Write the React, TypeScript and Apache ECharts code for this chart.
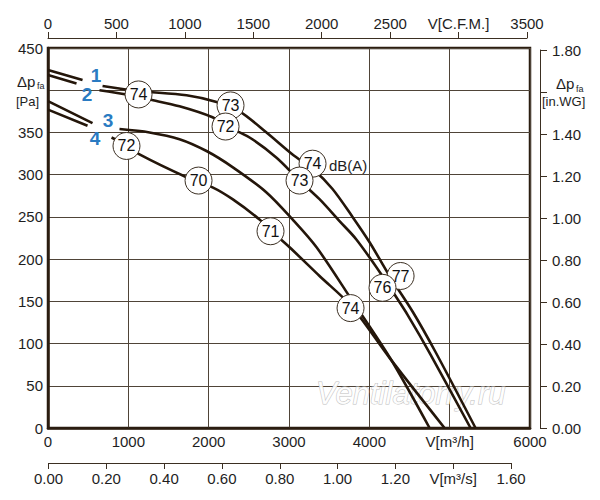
import React, { useEffect, useRef } from "react";
import * as echarts from "echarts";

const FONT = '"Liberation Sans", Arial, Helvetica, sans-serif';
const INK = "#24160a";
const GRID = "#4f4438";
const TXT = "#1e1e1e";

// Axis ranges / tick labels
const flowM3hMax = 6000;
const flowM3hStep = 1000;
const flowM3hNameAt = 5000;
const flowCfmMax = 3500;
const flowCfmStep = 500;
const flowCfmNameAt = 3000;
const flowM3sMax = 1.6;
const flowM3sStep = 0.2;
const flowM3sNameAt = 1.4;
const paMax = 450;
const paStep = 50;
const paNameAt = 400;
const inwgMax = 1.8;
const inwgStep = 0.2;
const inwgNameAt = 1.6;

// Curves: [V m3/h, dp Pa]; "-" marks a gap in the drawn curve
const curve1: (number | string)[][] = [
  [0, 424], [430, 412], [555, "-"], [679, 405], [1127, 399], [1724, 394],
  [2098, 386], [2384, 375], [2720, 350], [3044, 324], [3318, 305],
  [3542, 283], [3791, 250], [4003, 220], [4252, 180], [4538, 138],
  [4824, 90], [5322, 0],
];
const curve2: (number | string)[][] = [
  [0, 418], [355, 408], [498, "-"], [641, 400], [977, 395], [1264, 389],
  [1637, 381], [2048, 368], [2210, 358], [2509, 344], [2845, 320],
  [3131, 293], [3380, 271], [3629, 245], [3841, 223], [4164, 180],
  [4314, 158], [4476, 134], [4762, 87], [5260, 0],
];
const curve3: (number | string)[][] = [
  [0, 387], [554, 361], [722, "-"], [890, 354], [1264, 350], [1637, 342],
  [1973, 328], [2297, 309], [2720, 279], [3044, 247], [3343, 214],
  [3779, 152], [4264, 82], [4750, 0],
];
const curve4: (number | string)[][] = [
  [0, 377], [492, 358], [640, "-"], [791, 344], [990, 334], [1139, 324],
  [1724, 297], [2048, 285], [2297, 271], [2633, 247], [2783, 233],
  [3007, 214], [3380, 180], [3779, 144], [4252, 83], [4936, 0],
];
const curves = [curve1, curve2, curve3, curve4];

// Noise markers: [V m3/h, dp Pa, dB(A)]
const noiseMarks: number[][] = [
  [1127, 395, 74], [2272, 382, 73], [2210, 357, 72], [3293, 313, 74],
  [3131, 293, 73], [4389, 180, 77], [4164, 166, 76], [977, 334, 72],
  [1874, 293, 70], [2770, 233, 71], [3766, 142, 74],
];

const curveNames = ["1", "2", "3", "4"];

export default function App() {
  const ref = useRef<HTMLDivElement>(null);

  useEffect(() => {
    if (!ref.current) return;
    const chart = echarts.init(ref.current, undefined, { renderer: "svg" });

    const thinAxis = { lineStyle: { color: "#3b2f22", width: 1 } };
    const lbl = { fontSize: 15, color: TXT, fontFamily: FONT };

    const namePos = [
      [96, 75], [87, 94], [108, 120], [95, 138],
    ];

    const option: any = {
      animation: false,
      backgroundColor: "#ffffff",
      textStyle: { fontFamily: FONT },
      grid: [
        {
          left: 48, top: 48, width: 482, height: 380, show: true,
          borderColor: "#2b1d10", borderWidth: 2.5, backgroundColor: "transparent",
        },
        { left: 48, top: 37, width: 479, height: 1 },
        { left: 48.5, top: 462, width: 462.5, height: 1 },
        { left: 540, top: 50, width: 1, height: 378 },
      ],
      xAxis: [
        {
          gridIndex: 0, type: "value", min: 0, max: flowM3hMax, interval: flowM3hStep,
          position: "bottom",
          axisLine: { lineStyle: { color: "#2b1d10", width: 2.5 } },
          axisTick: { show: false },
          axisLabel: {
            ...lbl, margin: 6,
            formatter: (v: number) => (v === flowM3hNameAt ? "V[m³/h]" : String(v)),
          },
          splitLine: { show: true, lineStyle: { color: GRID, width: 1 } },
        },
        {
          gridIndex: 1, type: "value", min: 0, max: flowCfmMax, interval: flowCfmStep,
          position: "top",
          axisLine: thinAxis,
          axisTick: { show: true, length: 6, inside: false, lineStyle: { color: "#3b2f22", width: 1 } },
          axisLabel: {
            ...lbl, margin: 6,
            formatter: (v: number) => (v === flowCfmNameAt ? "V[C.F.M.]" : String(v)),
          },
          splitLine: { show: false },
        },
        {
          gridIndex: 2, type: "value", min: 0, max: flowM3sMax, interval: flowM3sStep,
          position: "bottom",
          axisLine: thinAxis,
          axisTick: { show: true, length: 6, inside: false, lineStyle: { color: "#3b2f22", width: 1 } },
          axisLabel: {
            ...lbl, margin: 8,
            formatter: (v: number) =>
              Math.abs(v - flowM3sNameAt) < 1e-6 ? "V[m³/s]" : v.toFixed(2),
          },
          splitLine: { show: false },
        },
        { gridIndex: 3, type: "value", show: false, min: 0, max: 1 },
      ],
      yAxis: [
        {
          gridIndex: 0, type: "value", min: 0, max: paMax, interval: paStep,
          position: "left",
          axisLine: { show: true, lineStyle: { color: "#2b1d10", width: 2.5 } },
          axisTick: { show: false },
          axisLabel: {
            ...lbl, margin: 5,
            formatter: (v: number) => (v === paNameAt ? "" : String(v)),
          },
          splitLine: { show: true, lineStyle: { color: GRID, width: 1 } },
        },
        { gridIndex: 1, type: "value", show: false },
        { gridIndex: 2, type: "value", show: false },
        {
          gridIndex: 3, type: "value", min: 0, max: inwgMax, interval: inwgStep,
          position: "right",
          axisLine: { show: true, ...thinAxis },
          axisTick: { show: true, length: 7, inside: false, lineStyle: { color: "#3b2f22", width: 1 } },
          axisLabel: {
            ...lbl, margin: 11,
            formatter: (v: number) => (Math.abs(v - inwgNameAt) < 1e-6 ? "" : v.toFixed(2)),
          },
          splitLine: { show: false },
        },
      ],
      graphic: [
        {
          type: "text", x: 316, y: 393, z: 1, silent: true,
          style: {
            text: "Ventilatorry.ru", fontSize: 31, fontStyle: "italic", fontFamily: FONT,
            fill: "rgba(255,255,255,0.92)", stroke: "#c0c0c0", lineWidth: 1,
            verticalAlign: "middle",
          },
        },
        {
          type: "text", x: 329, y: 165, z: 10,
          style: { text: "dB(A)", fontSize: 15, fontFamily: FONT, fill: TXT, verticalAlign: "middle" },
        },
        ...curveNames.map((n, i) => ({
          type: "text", x: namePos[i][0], y: namePos[i][1], z: 10,
          style: {
            text: n, fontSize: 19, fontWeight: "bold", fontFamily: FONT,
            fill: "#2a7bc2", align: "center", verticalAlign: "middle",
          },
        })),
        {
          type: "text", x: 17, y: 81, z: 10,
          style: { text: "Δp", fontSize: 15, fontFamily: FONT, fill: TXT, verticalAlign: "middle" },
        },
        {
          type: "text", x: 37, y: 86, z: 10,
          style: { text: "fa", fontSize: 9, fontFamily: FONT, fill: TXT, verticalAlign: "middle" },
        },
        {
          type: "text", x: 16, y: 101, z: 10,
          style: { text: "[Pa]", fontSize: 13, fontFamily: FONT, fill: TXT, verticalAlign: "middle" },
        },
        {
          type: "text", x: 556, y: 83, z: 10,
          style: { text: "Δp", fontSize: 15, fontFamily: FONT, fill: TXT, verticalAlign: "middle" },
        },
        {
          type: "text", x: 576, y: 89, z: 10,
          style: { text: "fa", fontSize: 9, fontFamily: FONT, fill: TXT, verticalAlign: "middle" },
        },
        {
          type: "text", x: 542, y: 101, z: 10,
          style: { text: "[in.WG]", fontSize: 13, fontFamily: FONT, fill: TXT, verticalAlign: "middle" },
        },
      ],
      series: [
        ...curves.map((d, i) => ({
          name: "Curve " + curveNames[i],
          type: "line",
          xAxisIndex: 0,
          yAxisIndex: 0,
          data: d,
          symbol: "none",
          showSymbol: false,
          smooth: 0.3,
          connectNulls: false,
          lineStyle: { color: INK, width: 2.6 },
          z: 2,
        })),
        {
          name: "dB(A)",
          type: "scatter",
          xAxisIndex: 0,
          yAxisIndex: 0,
          data: noiseMarks,
          symbol: "circle",
          symbolSize: 27,
          itemStyle: { color: "#ffffff", borderColor: "#3b2f22", borderWidth: 1, opacity: 1 },
          label: {
            show: true,
            position: "inside",
            formatter: (p: any) => String(p.value[2]),
            fontSize: 16,
            color: "#111",
            fontFamily: FONT,
          },
          z: 5,
        },
      ],
    };

    chart.setOption(option);
    return () => chart.dispose();
  }, []);

  return (
    <div
      ref={ref}
      style={{ position: "absolute", left: 0, top: 0, width: 600, height: 500 }}
    />
  );
}
